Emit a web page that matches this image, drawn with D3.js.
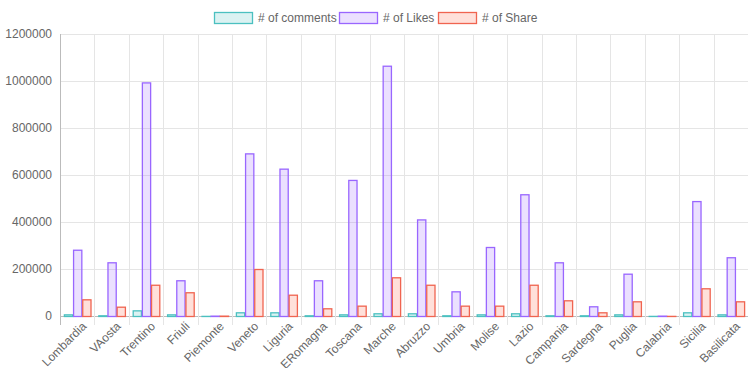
<!DOCTYPE html>
<html>
<head>
<meta charset="utf-8">
<script src="https://cdn.jsdelivr.net/npm/d3@7"></script>
<style>
  body { margin: 0; background: #fff; }
  text { font-family: "Liberation Sans", Arial, sans-serif; fill: #666; }
</style>
</head>
<body>
<svg width="748" height="368"></svg>
<script>
var regions = ["Lombardia", "VAosta", "Trentino", "Friuli", "Piemonte", "Veneto", "Liguria", "ERomagna", "Toscana", "Marche",
               "Abruzzo", "Umbria", "Molise", "Lazio", "Campania", "Sardegna", "Puglia", "Calabria", "Sicilia", "Basilicata"];
var comments = [7000, 3000, 24000, 7000, 500, 15700, 15700, 3000, 7000, 11500,
                11500, 3000, 7000, 11500, 3000, 3000, 7000, 500, 15700, 7000];
var likes = [282000, 228500, 994000, 152000, 1500, 692000, 627000, 152000, 579000, 1065000,
             411000, 105000, 293600, 518000, 228500, 41300, 180000, 1500, 489000, 250000];
var shares = [71000, 39600, 133000, 101000, 1500, 200000, 90600, 32800, 44000, 164700,
              133000, 44000, 44000, 133000, 66800, 15700, 62500, 500, 117900, 62500];
var yTicks = [0, 200000, 400000, 600000, 800000, 1000000, 1200000];

var series = [
  { name: "# of comments", values: comments, fill: "rgba(75,192,192,0.2)", stroke: "rgb(75,192,192)" },
  { name: "# of Likes", values: likes, fill: "rgba(153,102,255,0.2)", stroke: "rgb(153,102,255)" },
  { name: "# of Share", values: shares, fill: "rgba(255,99,71,0.2)", stroke: "rgb(240,100,80)" }
];

var svg = d3.select("svg"),
    margin = {top: 34, right: 0, bottom: 52, left: 60},
    width = +svg.attr("width") - margin.left - margin.right,
    height = +svg.attr("height") - margin.top - margin.bottom;

var x = d3.scaleBand().domain(regions).range([0, width]);
var inner = d3.scaleBand().domain(series.map(function(s) { return s.name; }))
    .range([x.bandwidth() * 0.1, x.bandwidth() * 0.9]).paddingInner(0.1).paddingOuter(0.05);
var y = d3.scaleLinear().domain([0, 1200000]).range([height, 0]);

var g = svg.append("g").attr("transform", "translate(" + margin.left + "," + margin.top + ")");

// horizontal grid
g.selectAll(".hgrid").data(yTicks).enter().append("line")
    .attr("x1", 0).attr("x2", width)
    .attr("y1", function(d) { return y(d) + 0.5; }).attr("y2", function(d) { return y(d) + 0.5; })
    .attr("stroke", function(d) { return d === 0 ? "#bbb" : "#e5e5e5"; });

// vertical grid at category edges, with tick marks below axis
var edges = regions.map(function(r) { return x(r); });
g.selectAll(".vgrid").data(edges).enter().append("line")
    .attr("x1", function(d) { return Math.round(d) + 0.5; }).attr("x2", function(d) { return Math.round(d) + 0.5; })
    .attr("y1", 0).attr("y2", height + 9)
    .attr("stroke", function(d, i) { return i === 0 ? "#bbb" : "#e5e5e5"; });

// y labels
g.selectAll(".ylab").data(yTicks).enter().append("text")
    .attr("x", -8).attr("y", function(d) { return y(d); })
    .attr("dy", "0.35em").attr("text-anchor", "end")
    .style("font-size", "12px")
    .text(function(d) { return d; });

// x labels
g.selectAll(".xlab").data(regions).enter().append("text")
    .attr("transform", function(d) { return "translate(" + (x(d) + x.bandwidth() / 2 + 7) + "," + (height + 8) + ") rotate(-45)"; })
    .attr("text-anchor", "end").attr("dy", "0.35em")
    .style("font-size", "12px")
    .text(function(d) { return d; });

// bars
series.forEach(function(s) {
  g.append("g").selectAll("rect").data(s.values).enter().append("rect")
      .attr("x", function(d, i) { return x(regions[i]) + inner(s.name) + 0.5; })
      .attr("y", function(d) { return y(d) + 0.5; })
      .attr("width", inner.bandwidth())
      .attr("height", function(d) { return Math.max(0, height - y(d)); })
      .attr("fill", s.fill)
      .attr("stroke", s.stroke)
      .attr("stroke-width", 1.3);
});

// legend
var legendX = [214, 339, 438];
var legend = svg.append("g").selectAll("g").data(series).enter().append("g")
    .attr("transform", function(d, i) { return "translate(" + legendX[i] + ",12)"; });
legend.append("rect")
    .attr("x", 0.5).attr("y", 0.5).attr("width", 38).attr("height", 11)
    .attr("fill", function(d) { return d.fill; })
    .attr("stroke", function(d) { return d.stroke; })
    .attr("stroke-width", 1.3);
legend.append("text")
    .attr("x", 44).attr("y", 6).attr("dy", "0.35em")
    .style("font-size", "12px")
    .text(function(d) { return d.name; });
</script>
</body>
</html>
